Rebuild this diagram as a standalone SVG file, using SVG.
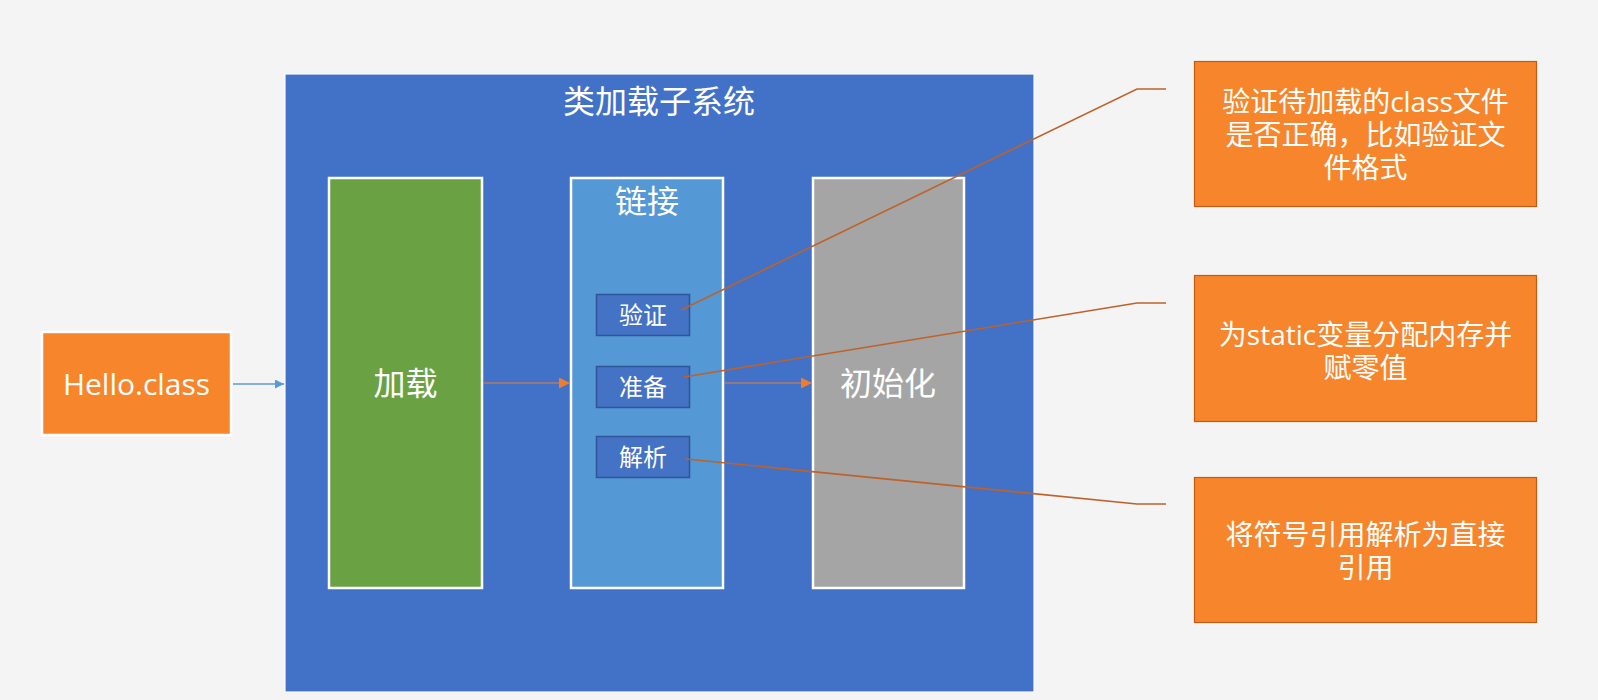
<svg xmlns="http://www.w3.org/2000/svg" width="1598" height="700" viewBox="0 0 1598 700">
<style>
  .cn { font-family: "Open Sans", "Noto Sans CJK SC", sans-serif; fill: #ffffff; text-anchor: middle; }
  .stage { stroke: #ffffff; stroke-width: 2.5; }
  .sub { fill: #4472C4; stroke: #2F5597; stroke-width: 1.5; }
  .note { fill: #F6852B; stroke: #C55A11; stroke-width: 1.2; }
  .callout { fill: none; stroke: #BE6229; stroke-width: 1.6; }
  .flow { fill: none; stroke: #ED7D31; stroke-width: 1.2; }
</style>
<defs>
  <marker id="arrBlue" viewBox="0 0 10 10" refX="10" refY="5" markerWidth="9" markerHeight="9" markerUnits="userSpaceOnUse" orient="auto">
    <path d="M0,0 L10,5 L0,10 z" fill="#5B9BD5"/>
  </marker>
  <marker id="arrOrange" viewBox="0 0 10 10" refX="10" refY="5" markerWidth="11" markerHeight="11" markerUnits="userSpaceOnUse" orient="auto">
    <path d="M0,0 L10,5 L0,10 z" fill="#ED7D31"/>
  </marker>
</defs>
<rect x="0" y="0" width="1598" height="700" fill="#F4F4F4"/>

<g id="hello">
  <rect x="42" y="332" width="189" height="103" fill="#F6852B" stroke="#ffffff" stroke-width="2.5"/>
  <text class="cn" x="136.5" y="395" font-size="30">Hello.class</text>
</g>

<g id="subsystem">
  <rect x="285" y="74" width="749" height="618" fill="#4172C8" stroke="#FAFAFA" stroke-width="1.2"/>
  <text class="cn" x="659" y="113" font-size="32">类加载子系统</text>
</g>

<g id="loading">
  <rect class="stage" x="329" y="178" width="153" height="410" fill="#6AA243"/>
  <text class="cn" x="405.5" y="395" font-size="32">加载</text>
</g>

<g id="linking">
  <rect class="stage" x="571" y="178" width="152" height="410" fill="#5498D6"/>
  <text class="cn" x="647" y="213" font-size="32">链接</text>
</g>

<g id="verify">
  <rect class="sub" x="596.5" y="294.5" width="93" height="41"/>
  <text class="cn" x="643" y="324" font-size="24">验证</text>
</g>

<g id="prepare">
  <rect class="sub" x="596.5" y="366.5" width="93" height="41"/>
  <text class="cn" x="643" y="396" font-size="24">准备</text>
</g>

<g id="resolve">
  <rect class="sub" x="596.5" y="436.5" width="93" height="41"/>
  <text class="cn" x="643" y="466" font-size="24">解析</text>
</g>

<g id="init">
  <rect class="stage" x="813" y="178" width="151" height="410" fill="#A5A5A5"/>
  <text class="cn" x="888" y="395" font-size="32">初始化</text>
</g>

<g id="note-verify">
  <rect class="note" x="1194.5" y="61.5" width="342" height="145"/>
  <text class="cn" x="1365.5" y="112" font-size="28">验证待加载的class文件</text>
  <text class="cn" x="1365.5" y="145" font-size="28">是否正确，比如验证文</text>
  <text class="cn" x="1365.5" y="178" font-size="28">件格式</text>
</g>

<g id="note-prepare">
  <rect class="note" x="1194.5" y="275.5" width="342" height="146"/>
  <text class="cn" x="1365.5" y="345" font-size="28">为static变量分配内存并</text>
  <text class="cn" x="1365.5" y="378" font-size="28">赋零值</text>
</g>

<g id="note-resolve">
  <rect class="note" x="1194.5" y="477.5" width="342" height="145"/>
  <text class="cn" x="1365.5" y="545" font-size="28">将符号引用解析为直接</text>
  <text class="cn" x="1365.5" y="578" font-size="28">引用</text>
</g>

<g id="connectors">
  <line x1="233" y1="384" x2="284" y2="384" stroke="#5B9BD5" stroke-width="1.3" marker-end="url(#arrBlue)"/>
  <line class="flow" x1="484" y1="383" x2="570" y2="383" marker-end="url(#arrOrange)"/>
  <line class="flow" x1="725" y1="383" x2="812" y2="383" marker-end="url(#arrOrange)"/>
  <polyline class="callout" points="681,310 1137,89 1166,89"/>
  <polyline class="callout" points="684,377 1137,303 1166,303"/>
  <polyline class="callout" points="686,459 1137,504 1166,504"/>
</g>
</svg>
